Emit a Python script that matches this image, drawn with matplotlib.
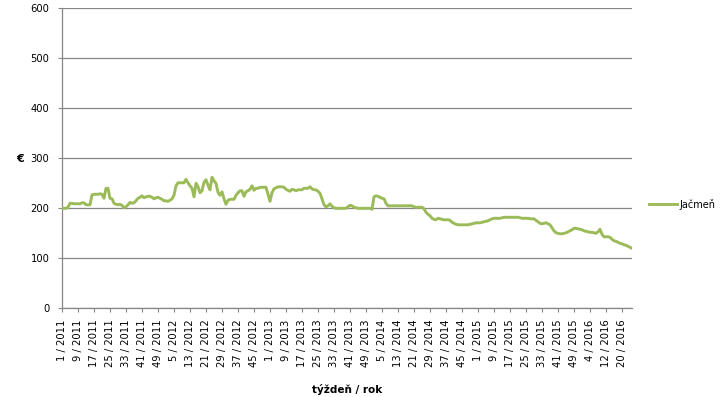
import matplotlib
matplotlib.use("Agg")
import matplotlib.pyplot as plt

years = [2011, 2012, 2013, 2014, 2015, 2016]
weeks_in_year = [52, 52, 52, 52, 53, 25]

prices_2011 = [200, 200, 200, 202, 210, 210, 209, 209, 209, 209,
               211, 211, 207, 207, 207, 227, 228, 228, 228, 229,
               228, 220, 240, 240, 220, 219, 210, 208, 207, 208,
               206, 201, 203, 207, 212, 210, 211, 215, 220, 222,
               225, 221, 223, 224, 224, 222, 219, 221, 222, 220,
               218, 215]
prices_2012 = [215, 214, 216, 219, 226, 245, 251, 251, 251, 251,
               258, 251, 245, 240, 223, 250, 243, 231, 235, 252,
               257, 246, 237, 262, 255, 250, 232, 226, 233, 219,
               208, 216, 218, 218, 218, 226, 231, 235, 235, 224,
               233, 235, 238, 245, 236, 240, 240, 242, 242, 242,
               242, 228]
prices_2013 = [214, 231, 239, 241, 243, 243, 243, 242, 238, 236,
               234, 238, 237, 235, 237, 237, 237, 240, 240, 240,
               243, 239, 237, 237, 234, 230, 219, 207, 203, 205,
               209, 204, 201, 200, 200, 200, 200, 200, 200, 203,
               206, 205, 202, 201, 200, 200, 200, 200, 200, 200,
               200, 198]
prices_2014 = [223, 225, 224, 222, 220, 219, 210, 205, 205, 205,
               205, 205, 205, 205, 205, 205, 205, 205, 205, 205,
               203, 202, 202, 202, 202, 199, 192, 188, 185, 180,
               178, 177, 180, 179, 178, 177, 177, 177, 176, 172,
               170, 168, 167, 167, 167, 167, 167, 167, 168, 169,
               170, 171]
prices_2015 = [171, 171, 172, 173, 174, 175, 177, 179, 180, 180,
               180, 180, 181, 182, 182, 182, 182, 182, 182, 182,
               182, 181, 180, 180, 180, 180, 179, 179, 179, 176,
               173, 170, 169, 170, 171, 169, 167, 161, 155, 151,
               150, 149, 149, 150, 151, 153, 155, 157, 160, 160,
               159, 158, 157]
prices_2016 = [155, 154, 153, 152, 152, 151, 150, 153, 158, 148,
               143, 143, 143, 142, 138, 135, 134, 132, 130, 129,
               127, 126, 124, 122, 120]

series_name = "Jačmeň"
x_title = "týždeň / rok"
y_title = "€"

categories = []
for y, n in zip(years, weeks_in_year):
    for w in range(1, n + 1):
        categories.append(f"{w} / {y}")
values = prices_2011 + prices_2012 + prices_2013 + prices_2014 + prices_2015 + prices_2016

W, H = 727, 397
fig = plt.figure(figsize=(W / 100, H / 100), dpi=100)
left, right, top, bottom = 62, 632, 8.3, 308.3
ax = fig.add_axes([left / W, 1 - bottom / H, (right - left) / W, (bottom - top) / H])

grey = "#868686"
green = "#9BBB59"
xs = list(range(len(values)))
ax.plot(xs, values, color=green, lw=2.1, label=series_name, solid_joinstyle="round", zorder=3)

ax.set_xlim(0, len(values) - 1)
ax.set_ylim(0, 600)
ax.set_yticks(range(0, 601, 100))
ax.yaxis.grid(True, color=grey, lw=0.9)
ax.set_axisbelow(True)
for s in ["top", "right"]:
    ax.spines[s].set_visible(False)
for s in ["left", "bottom"]:
    ax.spines[s].set_color(grey)
    ax.spines[s].set_linewidth(0.9)

tick_pos = list(range(0, len(values), 8))
ax.set_xticks(tick_pos)
ax.set_xticklabels([categories[i] for i in tick_pos], rotation=90, fontsize=7.2,
                   va="top", ha="center")
ax.tick_params(axis="x", length=3, width=0.8, color=grey, pad=5)
ax.tick_params(axis="y", length=3, width=0.8, color=grey, pad=6, labelsize=7.2)

ax.set_xlabel(x_title, fontsize=7.5, fontweight="bold")
ax.xaxis.set_label_coords(0.5, -(384 - bottom) / (bottom - top))
ax.set_ylabel(y_title, fontsize=8, fontweight="bold", rotation=0, va="center", ha="center")
ax.yaxis.set_label_coords(-(left - 20) / (right - left), (bottom - 159) / (bottom - top))

ax.legend(loc="center left", bbox_to_anchor=(649 / W, 1 - 204 / H),
          bbox_transform=fig.transFigure, frameon=False, fontsize=7,
          handlelength=2.9, handletextpad=0.2, borderpad=0, borderaxespad=0)

fig.savefig("out.png", dpi=100)
